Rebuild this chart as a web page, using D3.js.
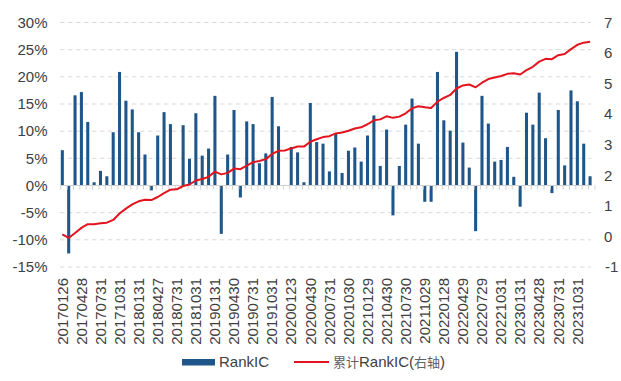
<!DOCTYPE html>
<html><head><meta charset="utf-8">
<script src="https://cdn.jsdelivr.net/npm/d3@7"></script>
<style>
html,body{margin:0;padding:0;background:#fff;}
svg{display:block;font-family:"Liberation Sans",Arial,sans-serif;}
</style></head>
<body>
<svg id="chart" width="621" height="381"></svg>
<script>
const months = [
"201701","201702","201703","201704","201705","201706","201707","201708","201709","201710","201711","201712",
"201801","201802","201803","201804","201805","201806","201807","201808","201809","201810","201811","201812",
"201901","201902","201903","201904","201905","201906","201907","201908","201909","201910","201911","201912",
"202001","202002","202003","202004","202005","202006","202007","202008","202009","202010","202011","202012",
"202101","202102","202103","202104","202105","202106","202107","202108","202109","202110","202111","202112",
"202201","202202","202203","202204","202205","202206","202207","202208","202209","202210","202211","202212",
"202301","202302","202303","202304","202305","202306","202307","202308","202309","202310","202311","202312"];

const tickLabels = ["20170126","20170428","20170731","20171031","20180131","20180427","20180731","20181031",
"20190131","20190430","20190731","20191031","20200123","20200430","20200731","20201030","20210129","20210430",
"20210730","20211029","20220128","20220429","20220729","20221031","20230131","20230428","20230731","20231031"];

// monthly RankIC, in %
const rankIC = [
6.5,-12.5,16.6,17.2,11.7,0.6,2.7,1.7,9.8,20.9,15.6,14.0,
9.8,5.7,-0.9,9.2,13.5,11.3,0.1,11.1,4.9,13.3,5.5,6.8,
16.5,-8.9,5.7,13.9,-2.2,11.8,11.3,4.1,5.9,16.3,10.9,0.1,
7.1,6.1,0.6,15.2,8.0,7.7,2.6,9.5,2.3,6.4,7.0,4.4,
9.2,12.9,3.6,10.3,-5.5,3.6,11.2,16.0,7.7,-3.0,-3.0,20.9,
12.0,10.1,24.6,7.9,3.3,-8.4,16.5,11.4,4.4,4.7,7.1,1.6,
-3.9,13.4,11.2,17.1,8.7,-1.4,13.9,3.7,17.5,15.5,7.7,1.7];

// cumulative RankIC (right axis)
const cumRankIC = [
0.07,-0.05,0.11,0.28,0.40,0.40,0.43,0.45,0.54,0.75,0.91,1.05,
1.15,1.20,1.19,1.29,1.42,1.53,1.54,1.65,1.70,1.83,1.88,1.95,
2.12,2.03,2.08,2.22,2.20,2.32,2.43,2.47,2.53,2.70,2.80,2.81,
2.88,2.94,2.94,3.10,3.18,3.25,3.28,3.37,3.40,3.46,3.53,3.57,
3.67,3.80,3.83,3.93,3.88,3.92,4.03,4.19,4.26,4.23,4.20,4.41,
4.53,4.63,4.84,4.94,4.97,4.88,5.03,5.15,5.20,5.25,5.32,5.34,
5.30,5.44,5.55,5.72,5.81,5.80,5.93,5.97,6.13,6.27,6.34,6.37];

const leftTicks = [-15,-10,-5,0,5,10,15,20,25,30];
const rightTicks = [-1,0,1,2,3,4,5,6,7];

const svg = d3.select("#chart");
const plotTop = 22.5, plotBottom = 267;
const x = d3.scaleBand().domain(months).range([60.8, 591.6]).paddingInner(0.52).paddingOuter(0);
const yL = d3.scaleLinear().domain([-15,30]).range([plotBottom, plotTop]);
const yR = d3.scaleLinear().domain([-1,7]).range([plotBottom, plotTop]);
const textColor = "#404040";

// gridlines
svg.append("g").selectAll("line").data(leftTicks.filter(d=>d!==0)).join("line")
  .attr("x1",60).attr("x2",591)
  .attr("y1",d=>yL(d)).attr("y2",d=>yL(d))
  .attr("stroke","#d9d9d9").attr("stroke-width",1)
  .attr("stroke-dasharray","4.5,3.5");

// left axis labels
svg.append("g").selectAll("text").data(leftTicks).join("text")
  .attr("x",47.5).attr("y",d=>yL(d)).attr("dy","0.35em")
  .attr("text-anchor","end").attr("font-size",15).attr("fill",textColor)
  .text(d=>d+"%");

// right axis labels
svg.append("g").selectAll("text").data(rightTicks).join("text")
  .attr("x",d=>d<0?605:604).attr("y",d=>yR(d)).attr("dy","0.35em")
  .attr("text-anchor","start").attr("font-size",15).attr("fill",textColor)
  .text(d=>d);

// bars
svg.append("g").selectAll("rect").data(rankIC).join("rect")
  .attr("x",(d,i)=>x(months[i]))
  .attr("width",x.bandwidth())
  .attr("y",d=>yL(Math.max(0,d)))
  .attr("height",d=>Math.abs(yL(d)-yL(0)))
  .attr("fill","#1f5689");

// x axis line at 0 with ticks
const zeroY = yL(0);
svg.append("line").attr("x1",60).attr("x2",591.6).attr("y1",zeroY).attr("y2",zeroY)
  .attr("stroke","#d0d0d0").attr("stroke-width",1);
svg.append("g").selectAll("line").data(months.concat(["end"])).join("line")
  .attr("x1",(d,i)=>60.8 + i*x.step()).attr("x2",(d,i)=>60.8 + i*x.step())
  .attr("y1",zeroY).attr("y2",zeroY+4)
  .attr("stroke","#d0d0d0").attr("stroke-width",1);

// cumulative line
const line = d3.line().x((d,i)=>x(months[i])+x.bandwidth()/2).y(d=>yR(d));
svg.append("path").datum(cumRankIC).attr("d",line)
  .attr("fill","none").attr("stroke","#e3141d").attr("stroke-width",2)
  .attr("stroke-linejoin","round");

// x tick labels (rotated)
svg.append("g").selectAll("text").data(tickLabels).join("text")
  .attr("transform",(d,i)=>`translate(${x(months[i*3])+x.bandwidth()/2},278) rotate(-90)`)
  .attr("dy","0.35em").attr("text-anchor","end")
  .attr("font-size",15).attr("fill",textColor)
  .text(d=>d);

// legend
const lg = svg.append("g");
lg.append("rect").attr("x",182).attr("y",359).attr("width",33).attr("height",6.5).attr("fill","#1f5689");
lg.append("text").attr("x",219).attr("y",362).attr("dy","0.35em").attr("font-size",15).attr("fill",textColor).text("RankIC");
lg.append("line").attr("x1",294).attr("x2",329).attr("y1",362).attr("y2",362).attr("stroke","#e3141d").attr("stroke-width",2);
const t2 = lg.append("text").attr("x",333).attr("y",362).attr("dy","0.35em").attr("font-size",15).attr("fill",textColor);
t2.append("tspan").attr("font-family","'Noto Sans CJK SC'").attr("font-size",13).attr("fill","#606060").text("累计");
t2.append("tspan").text("RankIC(");
t2.append("tspan").attr("font-family","'Noto Sans CJK SC'").attr("font-size",13).attr("fill","#606060").text("右轴");
t2.append("tspan").text(")");
</script>
</body></html>
